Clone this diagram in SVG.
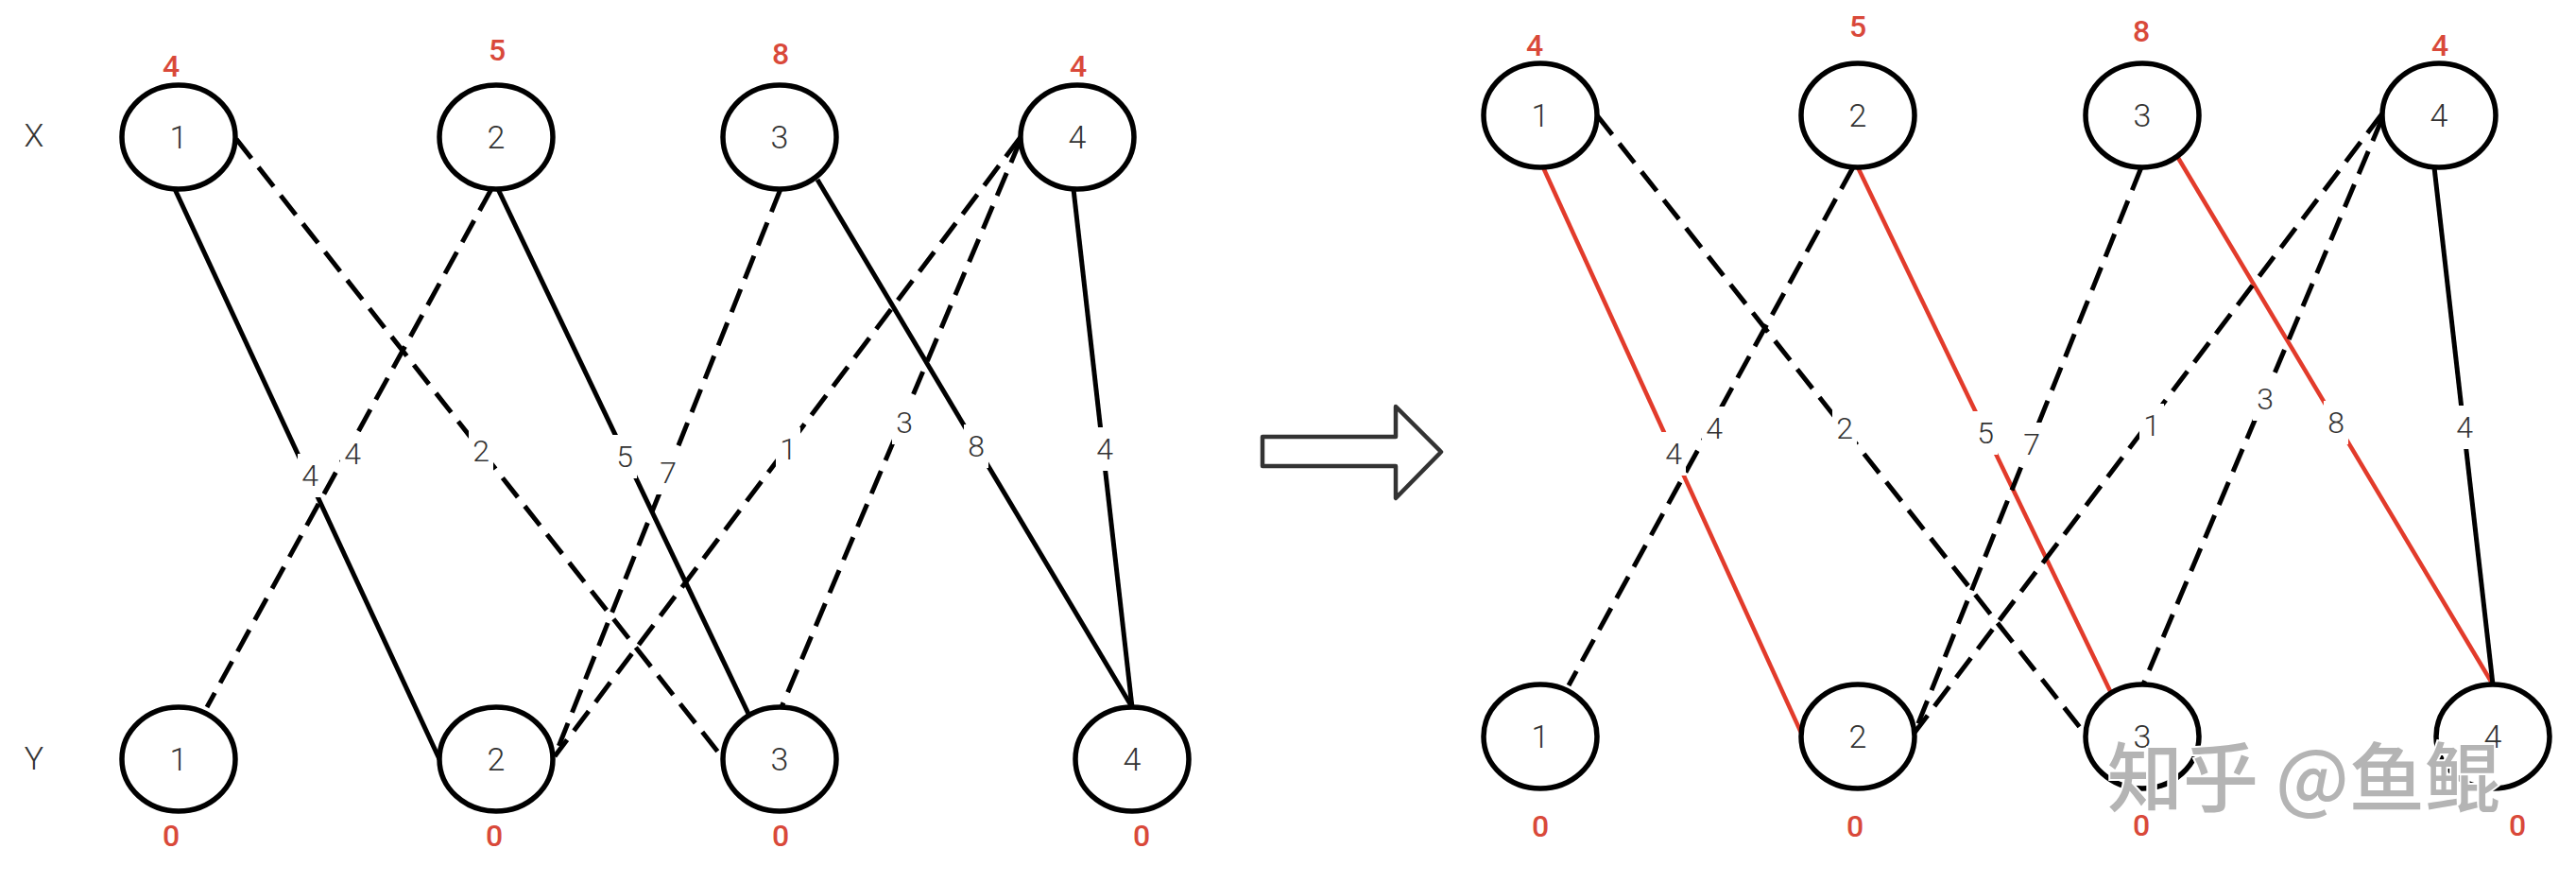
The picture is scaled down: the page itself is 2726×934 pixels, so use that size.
<svg xmlns="http://www.w3.org/2000/svg" width="2726" height="934" viewBox="0 0 2726 934">
<style>
.bg{fill:#ffffff}
.node ellipse{fill:#ffffff;stroke:#000000;stroke-width:5.5}
.nt{font-family:Roboto,"Liberation Sans",sans-serif;font-weight:300;font-size:34px;fill:#333333;text-anchor:middle}
.rt{font-family:Roboto,"Liberation Sans",sans-serif;font-weight:500;font-size:32px;fill:#d9493a;text-anchor:middle}
.el{font-family:Roboto,"Liberation Sans",sans-serif;font-weight:300;font-size:32px;fill:#333333;text-anchor:middle}
.lb{fill:#ffffff}
.s{stroke:#000000;stroke-width:5;fill:none}
.d{stroke:#000000;stroke-width:5;fill:none;stroke-dasharray:26 12}
.r{stroke:#e23b2b;stroke-width:4.5;fill:none}
.wm{font-family:"Noto Sans CJK SC","Noto Sans",sans-serif;font-weight:500;font-size:80px;fill:#b4b4b4;stroke:#ffffff;stroke-width:4;paint-order:stroke}
</style>
<rect class="bg" x="0" y="0" width="2726" height="934"/>

<text class="nt" x="36" y="155">X</text>
<text class="nt" x="36" y="814">Y</text>

<g id="connectors">
  <path class="s" d="M185,200 L465,803"/>
  <path class="d" d="M250,147 L765,802"/>
  <path class="d" d="M520,200 L219,748"/>
  <path class="s" d="M527,200 L792,755"/>
  <path class="d" d="M826,200 L587,800"/>
  <path class="s" d="M865,190 L1198,748"/>
  <path class="d" d="M1080,145 L587,800"/>
  <path class="d" d="M1080,148 L827,748"/>
  <path class="s" d="M1136,200 L1198,748"/>

  <path class="r" d="M1633,177 L1906,775"/>
  <path class="d" d="M1690,122 L2207,777"/>
  <path class="d" d="M1961,177 L1660,725"/>
  <path class="r" d="M1966,177 L2234,733"/>
  <path class="d" d="M2266,177 L2026,775"/>
  <path class="r" d="M2305,167 L2638,724"/>
  <path class="d" d="M2521,120 L2026,775"/>
  <path class="d" d="M2521,125 L2268,724"/>
  <path class="s" d="M2576,177 L2638,724"/>

  <g id="edge-labels">
    <rect class="lb" x="315" y="480" width="26" height="46"/><text class="el" x="328" y="514">4</text>
    <rect class="lb" x="496" y="454" width="26" height="46"/><text class="el" x="509" y="488">2</text>
    <rect class="lb" x="360" y="457" width="26" height="46"/><text class="el" x="373" y="491">4</text>
    <rect class="lb" x="648" y="460" width="26" height="46"/><text class="el" x="661" y="494">5</text>
    <rect class="lb" x="694" y="477" width="26" height="46"/><text class="el" x="707" y="511">7</text>
    <rect class="lb" x="1020" y="449" width="26" height="46"/><text class="el" x="1033" y="483">8</text>
    <rect class="lb" x="821" y="452" width="26" height="46"/><text class="el" x="834" y="486">1</text>
    <rect class="lb" x="944" y="424" width="26" height="46"/><text class="el" x="957" y="458">3</text>
    <rect class="lb" x="1156" y="452" width="26" height="46"/><text class="el" x="1169" y="486">4</text>

    <rect class="lb" x="1758" y="457" width="26" height="46"/><text class="el" x="1771" y="491">4</text>
    <rect class="lb" x="1939" y="430" width="26" height="46"/><text class="el" x="1952" y="464">2</text>
    <rect class="lb" x="1801" y="430" width="26" height="46"/><text class="el" x="1814" y="464">4</text>
    <rect class="lb" x="2088" y="435" width="26" height="46"/><text class="el" x="2101" y="469">5</text>
    <rect class="lb" x="2137" y="447" width="26" height="46"/><text class="el" x="2150" y="481">7</text>
    <rect class="lb" x="2459" y="424" width="26" height="46"/><text class="el" x="2472" y="458">8</text>
    <rect class="lb" x="2264" y="427" width="26" height="46"/><text class="el" x="2277" y="461">1</text>
    <rect class="lb" x="2384" y="399" width="26" height="46"/><text class="el" x="2397" y="433">3</text>
    <rect class="lb" x="2595" y="429" width="26" height="46"/><text class="el" x="2608" y="463">4</text>
  </g>
</g>

<g id="left-X1" class="node"><ellipse cx="189" cy="145" rx="60" ry="55"/><text class="nt" x="189" y="157">1</text><text class="rt" x="181" y="81">4</text></g>
<g id="left-X2" class="node"><ellipse cx="525" cy="145" rx="60" ry="55"/><text class="nt" x="525" y="157">2</text><text class="rt" x="526" y="64">5</text></g>
<g id="left-X3" class="node"><ellipse cx="825" cy="145" rx="60" ry="55"/><text class="nt" x="825" y="157">3</text><text class="rt" x="826" y="68">8</text></g>
<g id="left-X4" class="node"><ellipse cx="1140" cy="145" rx="60" ry="55"/><text class="nt" x="1140" y="157">4</text><text class="rt" x="1141" y="81">4</text></g>
<g id="left-Y1" class="node"><ellipse cx="189" cy="803" rx="60" ry="55"/><text class="nt" x="189" y="815">1</text><text class="rt" x="181" y="895">0</text></g>
<g id="left-Y2" class="node"><ellipse cx="525" cy="803" rx="60" ry="55"/><text class="nt" x="525" y="815">2</text><text class="rt" x="523" y="895">0</text></g>
<g id="left-Y3" class="node"><ellipse cx="825" cy="803" rx="60" ry="55"/><text class="nt" x="825" y="815">3</text><text class="rt" x="826" y="895">0</text></g>
<g id="left-Y4" class="node"><ellipse cx="1198" cy="803" rx="60" ry="55"/><text class="nt" x="1198" y="815">4</text><text class="rt" x="1208" y="895">0</text></g>

<g id="arrow">
  <path d="M1336,462 L1477,462 L1477,430 L1525,478 L1477,527 L1477,493 L1336,493 Z" fill="#ffffff" stroke="#333333" stroke-width="4.5" stroke-linejoin="round"/>
</g>

<g id="right-X1" class="node"><ellipse cx="1630" cy="122" rx="60" ry="55"/><text class="nt" x="1630" y="134">1</text><text class="rt" x="1624" y="59">4</text></g>
<g id="right-X2" class="node"><ellipse cx="1966" cy="122" rx="60" ry="55"/><text class="nt" x="1966" y="134">2</text><text class="rt" x="1966" y="39">5</text></g>
<g id="right-X3" class="node"><ellipse cx="2267" cy="122" rx="60" ry="55"/><text class="nt" x="2267" y="134">3</text><text class="rt" x="2266" y="44">8</text></g>
<g id="right-X4" class="node"><ellipse cx="2581" cy="122" rx="60" ry="55"/><text class="nt" x="2581" y="134">4</text><text class="rt" x="2582" y="59">4</text></g>
<g id="right-Y1" class="node"><ellipse cx="1630" cy="779" rx="60" ry="55"/><text class="nt" x="1630" y="791">1</text><text class="rt" x="1630" y="885">0</text></g>
<g id="right-Y2" class="node"><ellipse cx="1966" cy="779" rx="60" ry="55"/><text class="nt" x="1966" y="791">2</text><text class="rt" x="1963" y="885">0</text></g>
<g id="right-Y3" class="node"><ellipse cx="2267" cy="779" rx="60" ry="55"/><text class="nt" x="2267" y="791">3</text><text class="rt" x="2266" y="884">0</text></g>
<g id="right-Y4" class="node"><ellipse cx="2638" cy="779" rx="60" ry="55"/><text class="nt" x="2638" y="791">4</text><text class="rt" x="2664" y="884">0</text></g>

<text class="wm" x="2230" y="852">知乎 @鱼鲲</text>
</svg>
